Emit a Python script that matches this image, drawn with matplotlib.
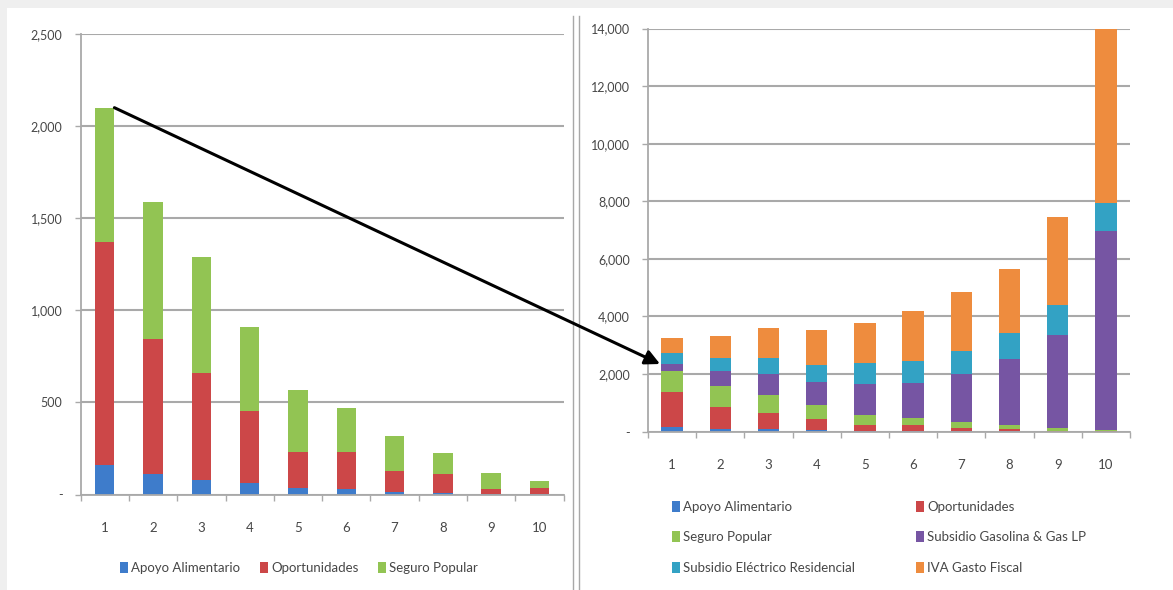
import matplotlib
matplotlib.use("Agg")
import matplotlib.pyplot as plt
import numpy as np
from matplotlib.patches import Rectangle, ConnectionPatch, Patch
from matplotlib.ticker import FuncFormatter, FixedLocator

plt.rcParams['font.family'] = ['Lato', 'DejaVu Sans']

# Deciles of household income
deciles = [str(i) for i in range(1, 11)]

# Targeted social programmes (left panel, and base of the right panel)
apoyo_alimentario = [160, 110, 80, 60, 38, 30, 15, 10, 5, 5]
oportunidades = [1210, 735, 580, 395, 195, 200, 110, 100, 27, 33]
seguro_popular = [730, 745, 630, 455, 335, 240, 195, 115, 85, 38]

# Generalised subsidies and tax expenditure (right panel only)
subsidio_gasolina = [250, 520, 710, 805, 1090, 1207, 1680, 2282, 3240, 6900]
subsidio_electrico = [400, 455, 550, 595, 740, 780, 800, 913, 1040, 970]
iva_gasto_fiscal = [490, 745, 1050, 1235, 1370, 1740, 2035, 2230, 3070, 6050]

left_names = ["Apoyo Alimentario", "Oportunidades", "Seguro Popular"]
right_names = ["Apoyo Alimentario", "Oportunidades", "Seguro Popular",
               "Subsidio Gasolina & Gas LP", "Subsidio Eléctrico Residencial",
               "IVA Gasto Fiscal"]

colors = {
    "Apoyo Alimentario": "#3E7CCB",
    "Oportunidades": "#CC4748",
    "Seguro Popular": "#92C453",
    "Subsidio Gasolina & Gas LP": "#7655A3",
    "Subsidio Eléctrico Residencial": "#33A2C4",
    "IVA Gasto Fiscal": "#EE8C3E",
}

series = {
    "Apoyo Alimentario": apoyo_alimentario,
    "Oportunidades": oportunidades,
    "Seguro Popular": seguro_popular,
    "Subsidio Gasolina & Gas LP": subsidio_gasolina,
    "Subsidio Eléctrico Residencial": subsidio_electrico,
    "IVA Gasto Fiscal": iva_gasto_fiscal,
}

W, H = 1173, 590
fig = plt.figure(figsize=(W / 100, H / 100), dpi=100)
fig.patch.set_facecolor("white")


def box(x0, y_top, x1, y_bottom):
    return [x0 / W, 1 - y_bottom / H, (x1 - x0) / W, (y_bottom - y_top) / H]


# light frame strips along the top and left edges
fig.add_artist(Rectangle((0, 1 - 8 / H), 1, 8 / H, transform=fig.transFigure,
                         facecolor="#efefef", edgecolor="none", zorder=0))
fig.add_artist(Rectangle((0, 0), 7 / W, 1, transform=fig.transFigure,
                         facecolor="#efefef", edgecolor="none", zorder=0))

# double divider between the two panels
for xs in (573, 579):
    fig.add_artist(plt.Line2D([xs / W, xs / W], [0, 1 - 16 / H],
                              transform=fig.transFigure, color="#a8a8a8", lw=1.0))

grid_col = "#a9a9a9"
text_col = "#474747"


def fmt(v, _):
    return "-" if v == 0 else f"{int(v):,}"


def style_axes(ax, ymax, step):
    ax.set_xlim(0.5, 10.5)
    ax.set_ylim(0, ymax)
    ax.set_yticks(np.arange(0, ymax + 1, step))
    ax.yaxis.set_major_formatter(FuncFormatter(fmt))
    ax.grid(axis="y", color=grid_col, lw=1.5, zorder=0)
    ax.set_axisbelow(True)
    for s in ("top", "right"):
        ax.spines[s].set_visible(False)
    for s in ("left", "bottom"):
        ax.spines[s].set_color(grid_col)
        ax.spines[s].set_linewidth(1.3)
    x = np.arange(1, 11)
    ax.set_xticks(x)
    ax.set_xticklabels(deciles)
    ax.xaxis.set_minor_locator(FixedLocator(np.arange(0.5, 11, 1.0)))
    ax.tick_params(axis="x", which="major", length=0, pad=20,
                   labelsize=9.5, labelcolor=text_col)
    ax.tick_params(axis="x", which="minor", length=4, color=grid_col, width=1)
    ax.tick_params(axis="y", length=4, color=grid_col, width=1, pad=9,
                   labelsize=9, labelcolor=text_col)


def stacked(ax, names, width):
    x = np.arange(1, 11)
    bottom = np.zeros(10)
    for n in names:
        vals = np.array(series[n], dtype=float)
        ax.bar(x, vals, width, bottom=bottom, color=colors[n], zorder=2,
               linewidth=0)
        bottom += vals
    return bottom


ax1 = fig.add_axes(box(80.6, 34, 563.6, 494.5))
style_axes(ax1, 2500, 500)
left_tot = stacked(ax1, left_names, 0.40)

ax2 = fig.add_axes(box(648, 28.5, 1130, 431.7))
style_axes(ax2, 14000, 2000)
w2 = 0.44
right_tot = stacked(ax2, right_names, w2)

# legends
h_left = [Patch(facecolor=colors[n], edgecolor="none") for n in left_names]
fig.legend(h_left, left_names, loc="center", bbox_to_anchor=(299 / W, 1 - 568 / H),
           ncol=3, frameon=False, fontsize=9.5, handlelength=0.6, handleheight=0.9,
           handletextpad=0.25, columnspacing=1.5, labelcolor=text_col)

order = ["Apoyo Alimentario", "Seguro Popular", "Subsidio Eléctrico Residencial",
         "Oportunidades", "Subsidio Gasolina & Gas LP", "IVA Gasto Fiscal"]
h_right = [Patch(facecolor=colors[n], edgecolor="none") for n in order]
fig.legend(h_right, order, loc="upper left", bbox_to_anchor=(660 / W, 1 - 489 / H),
           ncol=2, frameon=False, fontsize=9.5, handlelength=0.6, handleheight=0.9,
           handletextpad=0.25, columnspacing=4.6, labelspacing=1.4,
           labelcolor=text_col)

# arrow from the targeted-programme total to the full transfer bar of decile 1
start = (1 + 0.20, left_tot[0])
end = (1 - w2 / 2 - 0.03, sum(series[n][0] for n in right_names[:4]))
arrow = ConnectionPatch(start, end, coordsA=ax1.transData, coordsB=ax2.transData,
                        arrowstyle="-|>", mutation_scale=22, lw=2.2, color="black",
                        shrinkA=0, shrinkB=0, zorder=10)
fig.add_artist(arrow)

fig.savefig("out.png", dpi=100, facecolor=fig.get_facecolor())
